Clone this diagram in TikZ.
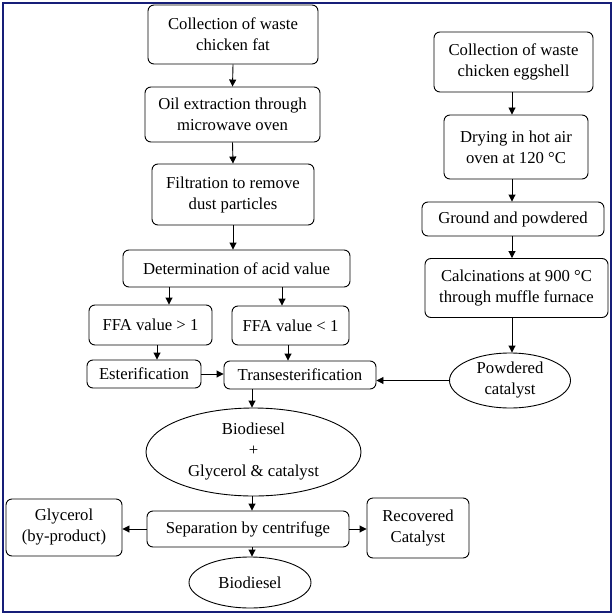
\documentclass[tikz,border=0pt]{standalone}
\usepackage{fontspec}
\setmainfont{Liberation Serif}
\usetikzlibrary{arrows.meta,shapes.geometric}
\definecolor{frameblue}{RGB}{22,30,120}
\begin{document}
\begin{tikzpicture}[x=1pt,y=-1pt,
  box/.style={draw,rounded corners=6pt,line width=0.9pt,align=center,inner sep=0pt,font=\fontsize{16.7}{21}\selectfont},
  oval/.style={draw,ellipse,line width=0.9pt,align=center,inner sep=0pt,font=\fontsize{16.7}{21}\selectfont},
  arr/.style={line width=0.9pt,-{Triangle[length=7pt,width=7pt]}}]
\useasboundingbox (0,0) rectangle (614,615);
\draw[frameblue,line width=2.5pt] (3,3) rectangle (611,612);
% left column
\node[box,minimum width=170pt,minimum height=59pt] (a) at (233,34.5) {Collection of waste\\chicken fat};
\node[box,minimum width=175pt,minimum height=55pt] (b) at (232.5,114.5) {Oil extraction through\\microwave oven};
\node[box,minimum width=162pt,minimum height=61pt] (c) at (233,194.5) {Filtration to remove\\dust particles};
\node[box,minimum width=227pt,minimum height=37pt] (d) at (236.5,268.5) {Determination of acid value};
\node[box,minimum width=123pt,minimum height=40pt] (f1) at (150.5,325) {FFA value \textgreater{} 1};
\node[box,minimum width=117pt,minimum height=39pt] (f2) at (290.5,325.5) {FFA value \textless{} 1};
\node[box,minimum width=114pt,minimum height=28pt] (es) at (144,374) {Esterification};
\node[box,minimum width=152pt,minimum height=28pt] (tr) at (300,375) {Transesterification};
\node[oval,minimum width=215pt,minimum height=88pt] (mix) at (253.5,452) {Biodiesel\\+\\Glycerol \& catalyst};
\node[box,minimum width=202pt,minimum height=36pt] (sep) at (248,529) {Separation by centrifuge};
\node[box,minimum width=116pt,minimum height=57pt] (gly) at (64,527.5) {Glycerol\\(by-product)};
\node[box,minimum width=102pt,minimum height=60pt] (rec) at (418,528) {Recovered\\Catalyst};
\node[oval,minimum width=122pt,minimum height=51pt] (bio) at (250,582.5) {Biodiesel};
% right column
\node[box,minimum width=159pt,minimum height=60pt] (e1) at (513.5,62) {Collection of waste\\chicken eggshell};
\node[box,minimum width=144pt,minimum height=64pt] (e2) at (516,147) {Drying in hot air\\oven at 120 °C};
\node[box,minimum width=182pt,minimum height=34pt] (e3) at (513,219) {Ground and powdered};
\node[box,minimum width=183pt,minimum height=59pt] (e4) at (516.5,288) {Calcinations at 900 °C\\through muffle furnace};
\node[oval,minimum width=121pt,minimum height=55pt] (cat) at (510,380.5) {Powdered\\catalyst};
% arrows
\draw[arr] (a.south) -- (b.north);
\draw[arr] (b.south) -- (c.north);
\draw[arr] (c.south) -- (c.south |- d.north);
\draw[arr] (d.south -| 169,0) -- (f1.north -| 169,0);
\draw[arr] (d.south -| 282,0) -- (f2.north -| 282,0);
\draw[arr] (f1.south -| 157,0) -- (es.north -| 157,0);
\draw[arr] (f2.south -| 288,0) -- (tr.north -| 288,0);
\draw[arr] (es.east) -- (tr.west |- es.east);
\draw[arr] (cat.west) -- (tr.east |- cat.west);
\draw[arr] (tr.south -| 252,0) -- (mix.north -| 252,0);
\draw[arr] (mix.south -| 252,0) -- (sep.north -| 252,0);
\draw[arr] (sep.west) -- (gly.east |- sep.west);
\draw[arr] (sep.east) -- (rec.west |- sep.east);
\draw[arr] (sep.south -| 252,0) -- (bio.north -| 252,0);
\draw[arr] (e1.south -| 512,0) -- (e2.north -| 512,0);
\draw[arr] (e2.south -| 512,0) -- (e3.north -| 512,0);
\draw[arr] (e3.south -| 512,0) -- (e4.north -| 512,0);
\draw[arr] (e4.south -| 512,0) -- (cat.north -| 512,0);
\end{tikzpicture}
\end{document}
